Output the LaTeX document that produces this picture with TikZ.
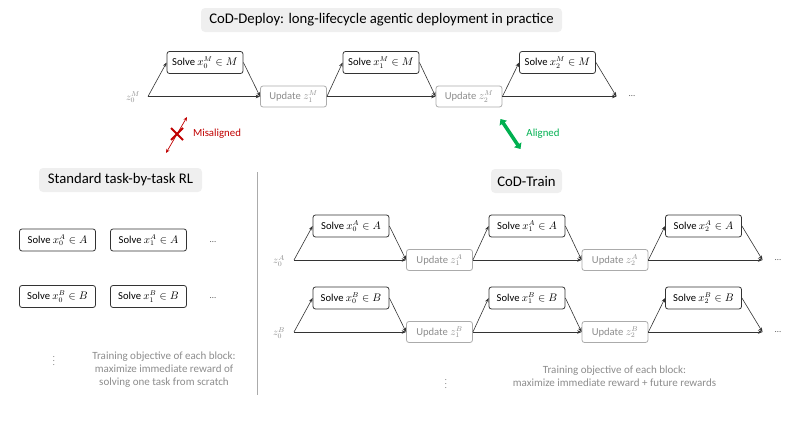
\documentclass[tikz,border=0pt]{standalone}
\usepackage{fontspec}
\setmainfont{Carlito}
\usetikzlibrary{arrows.meta,calc}
\definecolor{dgray}{HTML}{333333}
\definecolor{lgray}{HTML}{ABABAB}
\definecolor{tgray}{HTML}{8C8C8C}
\definecolor{tbfill}{HTML}{EFEFEF}
\definecolor{myred}{HTML}{C00000}
\definecolor{mygreen}{HTML}{00B050}
\tikzset{
  titlebox/.style={fill=tbfill, rounded corners=4pt, minimum height=24pt, inner sep=0pt, font=\fontsize{14.7}{16}\selectfont},
  solvebox/.style={draw=dgray, line width=0.8pt, rounded corners=2.5pt, minimum width=76pt, minimum height=22pt, inner sep=0pt, font=\fontsize{10.6}{12}\selectfont},
  updbox/.style={draw=lgray, line width=0.8pt, rounded corners=2.5pt, minimum width=66pt, minimum height=21pt, inner sep=0pt, text=tgray, font=\fontsize{10.6}{12}\selectfont},
  flow/.style={draw=dgray, line width=0.6pt, -{Stealth[length=4.5pt,width=3.5pt]}},
  zlab/.style={text=tgray, inner sep=0pt, font=\fontsize{10}{12}\selectfont},
  dotlab/.style={text=dgray!80, inner sep=0pt, font=\fontsize{9}{10}\selectfont},
  note/.style={text=tgray, align=center, inner sep=0pt, font=\fontsize{11}{13}\selectfont},
}
\newcommand{\codrow}[4]{%
  \coordinate (#1s) at ({#2+148},#3);
  \node[zlab] (#1z) at ({#2+133},{#3+1}) {$z_0^{#4}$};
  \node[solvebox] (#1x0) at ({#2+205},{#3-34}) {Solve $x_0^{#4}\in #4$};
  \node[updbox] (#1u1) at ({#2+293.5},#3) {Update $z_1^{#4}$};
  \node[solvebox] (#1x1) at ({#2+381},{#3-34}) {Solve $x_1^{#4}\in #4$};
  \node[updbox] (#1u2) at ({#2+469},#3) {Update $z_2^{#4}$};
  \node[solvebox] (#1x2) at ({#2+557.5},{#3-34}) {Solve $x_2^{#4}\in #4$};
  \coordinate (#1e) at ({#2+616.5},#3);
  \node[dotlab] (#1d) at ({#2+632},#3) {…};
  \draw[flow] (#1s) -- (#1u1.west);
  \draw[flow] (#1s) -- (#1x0.west);
  \draw[flow] (#1x0.east) -- (#1u1.west);
  \draw[flow] (#1u1.east) -- (#1u2.west);
  \draw[flow] (#1u1.east) -- (#1x1.west);
  \draw[flow] (#1x1.east) -- (#1u2.west);
  \draw[flow] (#1u2.east) -- (#1e);
  \draw[flow] (#1u2.east) -- (#1x2.west);
  \draw[flow] (#1x2.east) -- (#1e);
}
\begin{document}
\begin{tikzpicture}[x=1pt,y=-1pt]
\useasboundingbox (0,0) rectangle (793,423);

% titles
\node[titlebox, minimum width=361pt] (t1) at (381.5,20) {CoD-Deploy: long-lifecycle agentic deployment in practice};
\node[titlebox, minimum width=163pt] (t2) at (120.5,180) {Standard task-by-task RL};
\node[titlebox, minimum width=71pt] (t3) at (526.5,181) {CoD-Train};

% rows
\codrow{M}{0}{96.5}{M}
\codrow{A}{146}{260}{A}
\codrow{B}{146}{332}{B}

% misaligned / aligned
\coordinate (ra) at (166,153);
\coordinate (rb) at (187,117);
\draw[myred, line width=0.7pt, {Stealth[length=4pt,width=3.5pt]}-{Stealth[length=4pt,width=3.5pt]}] (ra) -- (rb);
\coordinate (xc) at (177,134);
\draw[myred, line width=1.8pt] ($(xc)+(-6,-6)$) -- ($(xc)+(6,6)$);
\draw[myred, line width=1.8pt] ($(xc)+(-6,6)$) -- ($(xc)+(6,-6)$);
\node[text=myred, font=\fontsize{10.8}{12}\selectfont, inner sep=0pt] (mis) at (217,134) {Misaligned};
\coordinate (ga) at (500.5,119);
\coordinate (gb) at (520.5,149);
\draw[mygreen, line width=3.5pt, {Triangle[length=5pt,width=8.5pt]}-{Triangle[length=5pt,width=8.5pt]}] (ga) -- (gb);
\node[text=mygreen, font=\fontsize{10.8}{12}\selectfont, inner sep=0pt] (ali) at (543,134) {Aligned};

% divider
\coordinate (d1) at (257,172);
\coordinate (d2) at (257,395);
\draw[lgray, line width=0.9pt] (d1) -- (d2);

% left panel
\node[solvebox] (LA0) at (57.5,240) {Solve $x_0^{A}\in A$};
\node[solvebox] (LA1) at (148.5,240) {Solve $x_1^{A}\in A$};
\node[dotlab] (LAd) at (213,242) {…};
\node[solvebox] (LB0) at (57.5,296.5) {Solve $x_0^{B}\in B$};
\node[solvebox] (LB1) at (148.5,296.5) {Solve $x_1^{B}\in B$};
\node[dotlab] (LBd) at (213,298) {…};
\node[dotlab, font=\fontsize{8}{9}\selectfont] (Lv) at (54,358) {$\vdots$};
\node[note] (Ln) at (164,370) {Training objective of each block:\\maximize immediate reward of\\solving one task from scratch};

% right panel notes
\node[dotlab, font=\fontsize{8}{9}\selectfont] (Rv) at (446,381) {$\vdots$};
\node[note] (Rn) at (614.5,376.5) {Training objective of each block:\\maximize immediate reward + future rewards};
\end{tikzpicture}
\end{document}
